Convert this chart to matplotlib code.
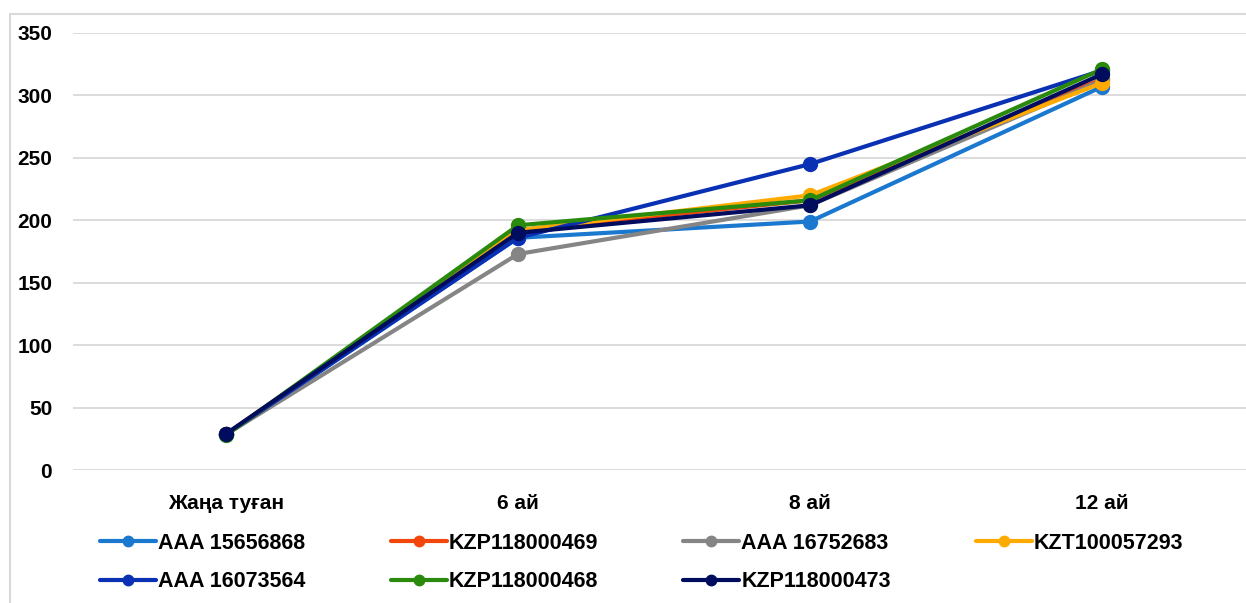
import matplotlib.pyplot as plt
from matplotlib.patches import Rectangle

categories = ["Жаңа туған", "6 ай", "8 ай", "12 ай"]

names = ["AAA 15656868", "KZP118000469", "AAA 16752683", "KZT100057293",
         "AAA 16073564", "KZP118000468", "KZP118000473"]
aaa_15656868 = [28.5, 186, 199, 307]
kzp_118000469 = [28.5, 192, 216, 313]
aaa_16752683 = [28.5, 173, 212, 312]
kzt_100057293 = [28.5, 192, 220, 310]
aaa_16073564 = [28.5, 186, 245, 320]
kzp_118000468 = [28, 196, 216, 321]
kzp_118000473 = [29, 190, 212, 317]
series = [aaa_15656868, kzp_118000469, aaa_16752683, kzt_100057293,
          aaa_16073564, kzp_118000468, kzp_118000473]
colors = ["#1B78CF", "#F2460C", "#858585", "#FFAA00",
          "#0A30B4", "#2A8A0C", "#000C5E"]

plt.rcParams['font.family'] = ['Liberation Sans', 'DejaVu Sans']
plt.rcParams['font.weight'] = 'bold'

W, H = 1246, 603
fig = plt.figure(figsize=(W / 100, H / 100), dpi=100)

# light frame round the chart
fig.patches.append(Rectangle((10 / W, -0.1), 1.2, (H - 14) / H + 0.1,
                             transform=fig.transFigure, fill=False,
                             edgecolor="#D9D9D9", linewidth=1.5))

ax = fig.add_axes([73 / W, (H - 470) / H, (W - 73) / W, 437 / H])
x = list(range(len(categories)))
handles = []
for name, vals, c in zip(names, series, colors):
    h, = ax.plot(x, vals, color=c, linewidth=3, marker="o", markersize=10,
                 label=name, solid_capstyle="round")
    handles.append(h)

ax.set_ylim(0, 350)
ax.set_yticks(range(0, 351, 50))
ax.set_xlim(-0.524, 3.493)
ax.set_xticks(x)
ax.set_xticklabels(categories)
ax.grid(axis="y", color="#D9D9D9", linewidth=1.3)
ax.set_axisbelow(True)
for s in ax.spines.values():
    s.set_visible(False)
ax.tick_params(axis="both", length=0, labelsize=15)
ax.tick_params(axis="y", pad=15)
ax.tick_params(axis="x", pad=17)

order = [0, 4, 1, 5, 2, 6, 3]
leg = fig.legend([handles[i] for i in order], [names[i] for i in order],
                 ncol=4, loc="upper left", bbox_to_anchor=(100 / W, (H - 533) / H),
                 frameon=False, fontsize=15.5, handlelength=2.6, handletextpad=0.1,
                 columnspacing=3.95, labelspacing=0.8, markerscale=0.75,
                 borderaxespad=0, borderpad=0)

fig.savefig("out.png", dpi=100)
